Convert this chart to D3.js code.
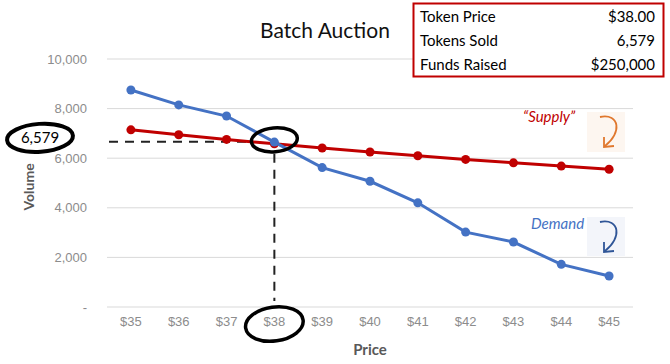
<!DOCTYPE html>
<html>
<head>
<meta charset="utf-8">
<script src="https://cdn.jsdelivr.net/npm/d3@7"></script>
<style>
  body { margin: 0; background: #fff; }
  svg { font-family: Lato, "Open Sans", sans-serif; }
</style>
</head>
<body>
<svg width="670" height="364"></svg>
<script>
var prices = ["$35", "$36", "$37", "$38", "$39", "$40", "$41", "$42", "$43", "$44", "$45"];
var demand = [8750, 8150, 7700, 6650, 5620, 5070, 4200, 3020, 2620, 1720, 1250];
var supply = [7143, 6944, 6757, 6579, 6410, 6250, 6098, 5952, 5814, 5682, 5556];
var yTicks = [0, 2000, 4000, 6000, 8000, 10000];
var infoLabels = ["Token Price", "Tokens Sold", "Funds Raised"];
var infoValues = ["$38.00", "6,579", "$250,000"];
var clearPrice = "$38", clearVolume = 6579;

var margin = { top: 59, right: 37, bottom: 57, left: 107 },
  width = 670 - margin.left - margin.right,
  height = 364 - margin.top - margin.bottom;

var x = d3.scaleBand().domain(prices).range([0, width]);
var y = d3.scaleLinear().domain([0, 10000]).range([height, 0]);
var cx = function(p) { return x(p) + x.bandwidth() / 2; };

var svg = d3.select("svg");
var g = svg.append("g")
  .attr("transform", "translate(" + margin.left + "," + margin.top + ")");

// gridlines
g.append("g")
  .selectAll("line")
  .data(yTicks)
  .enter().append("line")
  .attr("x1", 0).attr("x2", width)
  .attr("y1", function(d) { return y(d); })
  .attr("y2", function(d) { return y(d); })
  .attr("stroke", "#d9d9d9").attr("stroke-width", 1);

// y axis
var yAxis = g.append("g")
  .call(d3.axisLeft(y).tickValues(yTicks).tickSize(0).tickPadding(20)
    .tickFormat(function(d) { return d === 0 ? "-" : d3.format(",")(d); }));
yAxis.select(".domain").remove();
yAxis.selectAll("text").attr("fill", "#8c8c8c").attr("font-size", "13px");

// x axis
var xAxis = g.append("g")
  .attr("transform", "translate(0," + height + ")")
  .call(d3.axisBottom(x).tickSize(0).tickPadding(10));
xAxis.select(".domain").remove();
xAxis.selectAll("text").attr("fill", "#8c8c8c").attr("font-size", "13px");

// axis titles
svg.append("text")
  .attr("transform", "rotate(-90)")
  .attr("x", -187).attr("y", 34)
  .attr("text-anchor", "middle")
  .attr("fill", "#595959").attr("font-size", "14px").attr("font-weight", "bold")
  .text("Volume");
svg.append("text")
  .attr("x", 370).attr("y", 355)
  .attr("text-anchor", "middle")
  .attr("fill", "#595959").attr("font-size", "15px").attr("font-weight", "bold")
  .text("Price");

// title
svg.append("text")
  .attr("x", 325).attr("y", 38)
  .attr("text-anchor", "middle")
  .attr("fill", "#111").attr("font-size", "21px")
  .text("Batch Auction");

// dashed guides
g.append("line")
  .attr("x1", 2).attr("x2", cx(clearPrice) - 22)
  .attr("y1", y(clearVolume) - 2).attr("y2", y(clearVolume) - 2)
  .attr("stroke", "#222").attr("stroke-width", 2).attr("stroke-dasharray", "9,7");
g.append("line")
  .attr("x1", cx(clearPrice)).attr("x2", cx(clearPrice))
  .attr("y1", y(clearVolume) + 10).attr("y2", height - 6)
  .attr("stroke", "#222").attr("stroke-width", 2).attr("stroke-dasharray", "9,7");

// series
var line = d3.line()
  .x(function(d, i) { return cx(prices[i]); })
  .y(function(d) { return y(d); });

function drawSeries(values, color) {
  g.append("path")
    .datum(values)
    .attr("fill", "none").attr("stroke", color).attr("stroke-width", 3)
    .attr("d", line);
  g.append("g")
    .selectAll("circle")
    .data(values)
    .enter().append("circle")
    .attr("cx", function(d, i) { return cx(prices[i]); })
    .attr("cy", function(d) { return y(d); })
    .attr("r", 4.5)
    .attr("fill", color);
}
drawSeries(supply, "#c00000");
drawSeries(demand, "#4472c4");

// hand-drawn circles
function ring(px, py, rx, ry, rot) {
  g.append("ellipse")
    .attr("cx", px).attr("cy", py).attr("rx", rx).attr("ry", ry)
    .attr("transform", "rotate(" + rot + "," + px + "," + py + ")")
    .attr("fill", "none").attr("stroke", "#000").attr("stroke-width", 3.5);
}
ring(cx(clearPrice), y(clearVolume) - 4, 23, 12, -5);
ring(cx(clearPrice), height + 17, 29, 17, -8);

// 6,579 callout on y axis
g.append("ellipse")
  .attr("cx", -67).attr("cy", y(clearVolume) - 6).attr("rx", 33).attr("ry", 14)
  .attr("transform", "rotate(-4," + (-67) + "," + (y(clearVolume) - 6) + ")")
  .attr("fill", "#fff").attr("stroke", "#000").attr("stroke-width", 4);
g.append("text")
  .attr("x", -67).attr("y", y(clearVolume) - 1)
  .attr("text-anchor", "middle")
  .attr("fill", "#000").attr("font-size", "15px")
  .text("6,579");

// series labels with arrows
var labelX = x("$43") + x.bandwidth() * 0.7;
svg.append("rect").attr("x", 587).attr("y", 112).attr("width", 38).attr("height", 40).attr("fill", "#fdf6f0");
svg.append("rect").attr("x", 587).attr("y", 217).attr("width", 38).attr("height", 39).attr("fill", "#f3f5fa");
svg.append("text")
  .attr("x", margin.left + labelX).attr("y", 122)
  .attr("fill", "#c00000").attr("font-size", "15px").attr("font-style", "italic")
  .text("\u201cSupply\u201d");
svg.append("text")
  .attr("x", margin.left + labelX + 8).attr("y", 229)
  .attr("fill", "#4472c4").attr("font-size", "15px").attr("font-style", "italic")
  .text("Demand");

function arrow(x0, y0, color) {
  svg.append("path")
    .attr("d", "M" + x0 + "," + y0 + " C" + (x0 + 20) + "," + (y0 - 4) + " " + (x0 + 22) + "," + (y0 + 16) + " " + (x0 + 5) + "," + (y0 + 29))
    .attr("fill", "none").attr("stroke", color).attr("stroke-width", 1.8);
  svg.append("path")
    .attr("d", "M" + (x0 + 4) + "," + (y0 + 20) + " L" + (x0 + 4) + "," + (y0 + 30) + " L" + (x0 + 14) + "," + (y0 + 29))
    .attr("fill", "none").attr("stroke", color).attr("stroke-width", 1.8);
}
arrow(600, 117, "#e0782e");
arrow(600, 222, "#2f5597");

// info box
svg.append("rect")
  .attr("x", 413.5).attr("y", 3.5).attr("width", 250).attr("height", 73)
  .attr("fill", "#fff").attr("stroke", "#c00000").attr("stroke-width", 2);
infoLabels.forEach(function(t, i) {
  svg.append("text")
    .attr("x", 420).attr("y", 22 + i * 24)
    .attr("fill", "#000").attr("font-size", "15px")
    .text(t);
  svg.append("text")
    .attr("x", 655).attr("y", 22 + i * 24)
    .attr("text-anchor", "end")
    .attr("fill", "#000").attr("font-size", "15px")
    .text(infoValues[i]);
});
</script>
</body>
</html>
